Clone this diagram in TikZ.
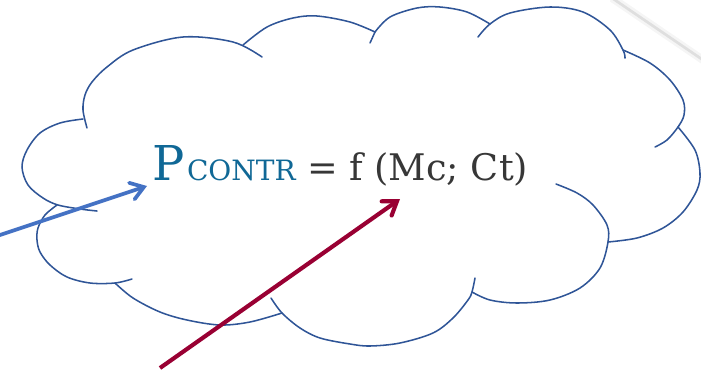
\documentclass[tikz,border=0pt]{standalone}
\usepackage{fontspec}
\setmainfont{DejaVu Serif}
\usetikzlibrary{arrows.meta}
\definecolor{cloudblue}{RGB}{47,85,151}
\definecolor{arrowblue}{RGB}{68,114,196}
\definecolor{arrowred}{RGB}{153,0,51}
\definecolor{tealtext}{RGB}{16,104,150}
\definecolor{darktext}{RGB}{55,55,55}
\begin{document}
\begin{tikzpicture}[x=0.75pt,y=-0.75pt,
  cloudline/.style={draw=cloudblue, line width=1.15pt, line cap=round, line join=round},
  lobe/.style={smooth, tension=0.55},
  bluearrow/.style={draw=arrowblue, line width=2.8pt, line cap=butt,
    -{Straight Barb[length=9.5pt, width=13pt, line cap=round]}},
  redarrow/.style={draw=arrowred, line width=3.1pt, line cap=butt,
    -{Straight Barb[length=9.5pt, width=13pt, line cap=round]}},
  txt/.style={anchor=base west, inner sep=0pt, outer sep=0pt}]
\useasboundingbox (0,0) rectangle (701,369);
\clip (0,0) rectangle (701,369);

% faint grey line, top right
\draw[gray!8, line width=6pt] (612,-2) -- (703,60);
\draw[gray!25, line width=2pt] (612,-2) -- (703,60);

% cloud lobes
\draw[cloudline] plot[lobe] coordinates {(87,128) (83,110) (85,95) (92,82) (107,67) (133,50) (183,37) (233,42) (262,57)};
\draw[cloudline] plot[lobe] coordinates {(243,45) (267,27) (293,18) (317,16) (350,22) (375,32)};
\draw[cloudline] plot[lobe] coordinates {(375,32) (390,17) (417,8) (440,7) (467,12) (490,24)};
\draw[cloudline] plot[lobe] coordinates {(375,32) (370,43)};
\draw[cloudline] plot[lobe] coordinates {(478,37) (490,24) (510,13) (550,7) (583,12) (610,30) (623,50) (625,58)};
\draw[cloudline] plot[lobe] coordinates {(623,50) (650,63) (670,80) (683,100) (684,115) (678,127) (667,140) (655,147)};
\draw[cloudline] plot[lobe] coordinates {(678,127) (695,150) (700,173) (697,190) (683,212) (663,228) (637,238) (608,242)};
\draw[cloudline] plot[lobe] coordinates {(556,184) (577,193) (593,205) (607,225) (608,242) (600,268) (580,288) (550,300) (517,303) (490,300) (472,292)};
\draw[cloudline] plot[lobe] coordinates {(475,278) (472,292) (468,300) (453,318) (433,333) (400,343) (370,346) (350,344) (320,338) (300,328) (282,313) (271,298)};
\draw[cloudline] plot[lobe] coordinates {(282,313) (250,322) (220,325) (187,320) (160,312) (133,298) (115,283)};
\draw[cloudline] plot[lobe] coordinates {(57,205) (45,215) (38,228) (37,240) (40,252) (50,265) (67,277) (90,283) (115,283) (132,279)};
\draw[cloudline] plot[lobe] coordinates {(83,119) (60,123) (40,133) (27,150) (22,167) (28,185) (43,198) (58,205) (80,209) (97,211)};

% formula
\node[txt, text=tealtext, font=\fontsize{36pt}{40pt}\selectfont] (p) at (152,180) {P};
\node[txt, text=tealtext, font=\fontsize{21pt}{24pt}\selectfont] (contr) at (187,180) {CONTR};
\node[txt, text=darktext, font=\fontsize{27.5pt}{31pt}\selectfont] (rest) at (307,180) {= f (Mc; Ct)};

% arrows
\coordinate (bstart) at (-6,237);
\coordinate (btip) at (147,186);
\coordinate (rstart) at (160,368);
\coordinate (rtip) at (400,199);
\draw[bluearrow] (bstart) -- (btip);
\draw[redarrow] (rstart) -- (rtip);
\end{tikzpicture}
\end{document}
